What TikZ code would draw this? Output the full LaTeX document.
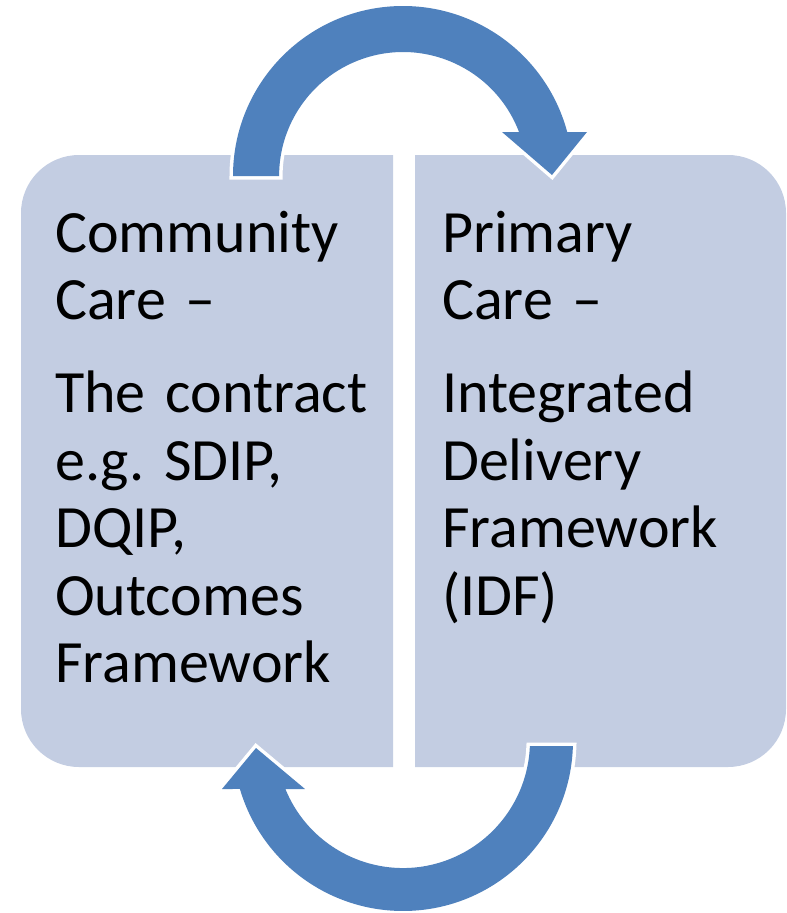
\documentclass[tikz,border=0pt]{standalone}
\usepackage{fontspec}
\setmainfont{Carlito}
\frenchspacing
\definecolor{boxfill}{RGB}{195,205,226}
\definecolor{arrowblue}{RGB}{79,129,189}
\begin{document}
\begin{tikzpicture}[x=1pt,y=-1pt,
  panel/.style={fill=boxfill},
  loopback/.style={fill=arrowblue},
  loopedge/.style={draw=white,line width=7pt},
  label/.style={anchor=base west,text width=340pt,align=left,inner sep=0pt,
    font=\fontsize{60}{67.5}\selectfont\frenchspacing}]
\useasboundingbox (0,0) rectangle (787,913);
% boxes
\path[panel] (393,155) -- (79,155) arc[start angle=270,end angle=180,radius=58]
  -- (21,709) arc[start angle=180,end angle=90,radius=58] -- (393,767) -- cycle;
\path[panel] (415,155) -- (728,155) arc[start angle=270,end angle=360,radius=58]
  -- (786,709) arc[start angle=0,end angle=90,radius=58] -- (415,767) -- cycle;
% top arrow
\def\toparrow{(233,176) arc[start angle=180,end angle=345,radius=170]
  -- (587,132) -- (552,175) -- (502,132) -- (519,132)
  arc[start angle=339.2,end angle=180,radius=124] -- cycle}
\path[loopedge] \toparrow;
\path[loopback] \toparrow;
% bottom arrow
\def\botarrow{(572.9,746) arc[start angle=1.69,end angle=163.6,radius=170]
  -- (222,789) -- (256,748) -- (305,789) -- (285.4,789)
  arc[start angle=157.8,end angle=2.26,radius=127] -- cycle}
\path[loopedge] \botarrow;
\path[loopback] \botarrow;
% texts
\node[label] (left) at (55,252) {Community\\Care –\\[25.5pt]The contract\\e.g. SDIP,\\DQIP,\\Outcomes\\Framework};
\node[label] (right) at (442,252) {Primary\\Care –\\[25.5pt]Integrated\\Delivery\\Framework\\(IDF)};
\end{tikzpicture}
\end{document}
